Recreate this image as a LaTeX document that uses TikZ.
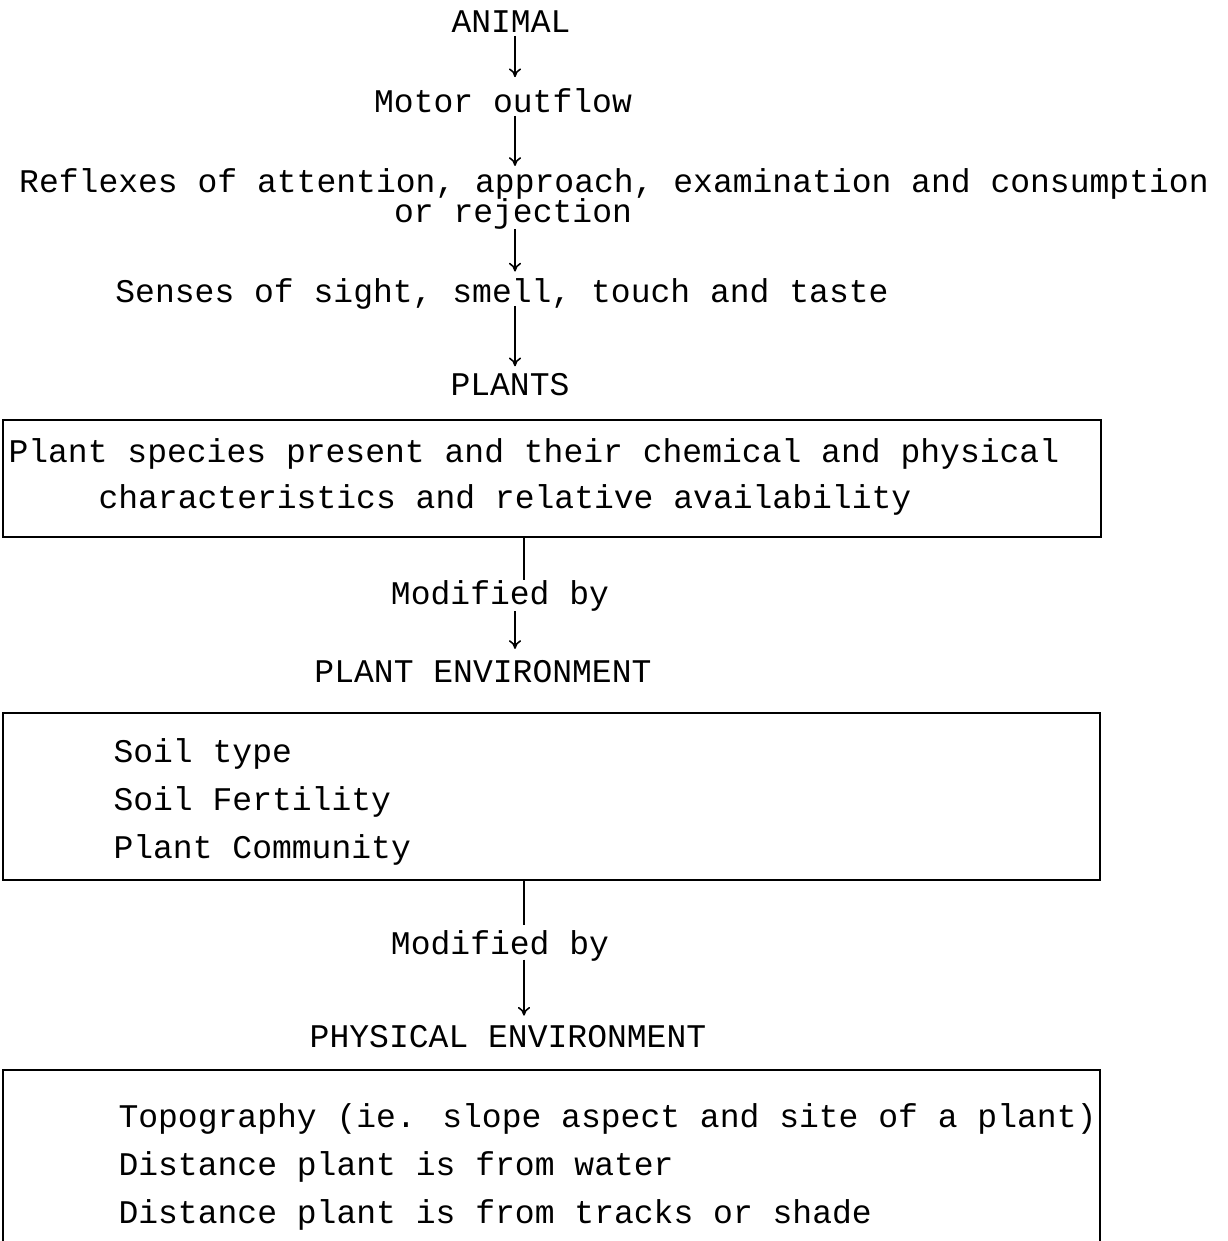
\documentclass[tikz,border=0pt]{standalone}
\usepackage{fontspec}
\setmainfont{Liberation Mono}
\usetikzlibrary{arrows.meta}
\begin{document}
\begin{tikzpicture}[x=0.2mm,y=-0.2mm,
  >={To[length=5pt,width=7pt]},
  typed/.style={font=\fontsize{18.8pt}{22pt}\selectfont, inner sep=0pt, outer sep=2pt,
    text height=0.6em, text depth=0pt},
  conn/.style={->, line width=0.9pt, shorten >=8pt},
  link/.style={line width=0.9pt},
  panel/.style={line width=1pt}]
\useasboundingbox (0,0) rectangle (1228,1241);

% the animal end
\coordinate (spine) at (515,0);
\node [typed] (animal) at (511,27) {ANIMAL};
\node [typed] (motor) at (503,107) {Motor outflow};
\node [typed] (reflex) at (614,187) {Reflexes of attention, approach, examination and consumption};
\node [typed] (reflexb) at (513,217) {or rejection};
\node [typed] (senses) at (502,297) {Senses of sight, smell, touch and taste};
\node [typed] (plants) at (510,390) {PLANTS};
\draw [conn, shorten >=12pt] (animal.south -| spine) -- (motor.north -| spine);
\draw [conn, shorten >=7pt] (motor.south -| spine) -- (reflex.north -| spine);
\draw [conn, shorten >=9.5pt, shorten <=2pt] (reflexb.south -| spine) -- (senses.north -| spine);
\draw [conn, shorten >=8.5pt] (senses.south -| spine) -- (plants.north -| spine);

% plants
\draw [panel] (3,420) rectangle (1101,537);
\node [typed, anchor=west] (species) at (5,457) {Plant species present and their chemical and physical};
\node [typed, anchor=west] (speciesb) at (95,503) {characteristics and relative availability};
\coordinate (plantfoot) at (524,537);
\node [typed] (moda) at (500,599) {Modified by};
\node [typed] (plantenv) at (483,677) {PLANT ENVIRONMENT};
\draw [link, shorten >=6pt] (plantfoot) -- (moda.north -| plantfoot);
\draw [conn, shorten >=11pt, shorten <=2pt] (moda.south -| spine) -- (plantenv.north -| spine);

% plant environment
\draw [panel] (3,713) rectangle (1100,880);
\node [typed, anchor=west] (soil) at (110,757) {Soil type};
\node [typed, anchor=west] (fertility) at (110,805) {Soil Fertility};
\node [typed, anchor=west] (community) at (110,853) {Plant Community};
\coordinate (envfoot) at (524,880);
\node [typed] (modb) at (500,949) {Modified by};
\node [typed] (physenv) at (508,1042) {PHYSICAL ENVIRONMENT};
\draw [link, shorten >=8.5pt] (envfoot) -- (modb.north -| envfoot);
\draw [conn, shorten >=10pt, shorten <=1pt] (modb.south -| envfoot) -- (physenv.north -| envfoot);

% physical environment, box runs off the page
\draw [panel] (3,1260) |- (1100,1070) -- (1100,1260);
\node [typed, anchor=west] (topo) at (115,1122) {Topography (ie. slope aspect and site of a plant)};
\node [typed, anchor=west] (water) at (115,1170) {Distance plant is from water};
\node [typed, anchor=west] (tracks) at (115,1218) {Distance plant is from tracks or shade};
\end{tikzpicture}
\end{document}
